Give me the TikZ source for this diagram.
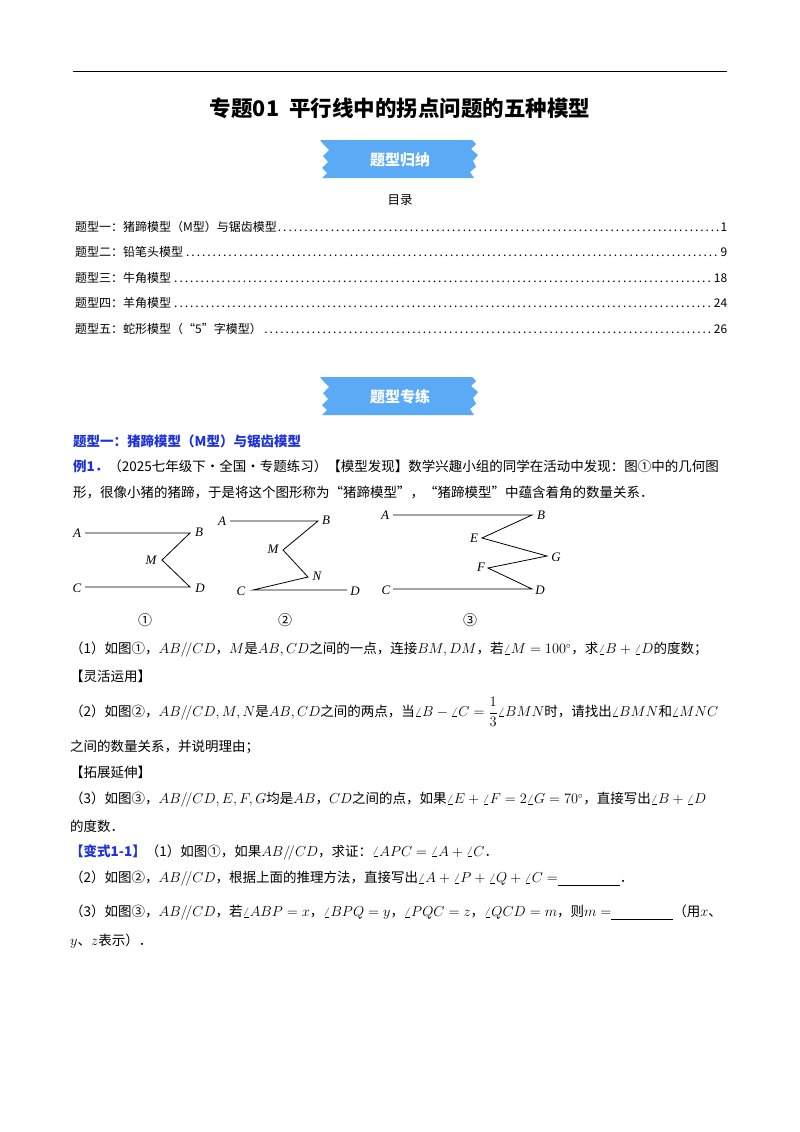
\documentclass[tikz,border=0pt]{standalone}
\usepackage{amsmath}
\usepackage{fontspec}
\setmainfont{Noto Sans CJK SC}
\newfontfamily\serifl{Liberation Serif}
\definecolor{bannerblue}{RGB}{91,170,245}
\definecolor{headblue}{RGB}{30,50,220}
\tikzset{
  txt/.style={anchor=west,inner sep=0pt,font=\fontsize{13.5}{15}\selectfont},
  toc/.style={anchor=west,inner sep=0pt,text width=652pt,font=\fontsize{12}{14}\selectfont},
  lbl/.style={inner sep=0pt,font=\fontsize{13}{15}\selectfont\itshape\serifl},
  seg/.style={line width=0.8pt},
}
\newcommand{\bannerat}[2]{%
  \fill[bannerblue] (#1-80,#2-19) -- (#1+72,#2-19) -- (#1+76,#2-15) -- (#1+71,#2-10) -- (#1+78,#2-4) -- (#1+73,#2+2) -- (#1+76,#2+8) -- (#1+70,#2+13) -- (#1+74,#2+19) -- (#1-78,#2+19) -- (#1-73,#2+14) -- (#1-78,#2+9) -- (#1-72,#2+3) -- (#1-77,#2-3) -- (#1-71,#2-9) -- (#1-76,#2-14) -- cycle;}
\begin{document}
\begin{tikzpicture}[x=1pt,y=-1pt]
\useasboundingbox (0,0) rectangle (800,1132);
\draw[line width=1pt] (73,72) coordinate (r1) -- (727,72) coordinate (r2);
\node[font=\fontsize{21.5}{23}\selectfont\bfseries] (title) at (400,108) {专题01\ \ 平行线中的拐点问题的五种模型};
\bannerat{400}{159}
\node[text=white,font=\fontsize{15}{17}\selectfont\bfseries] (b1t) at (400,160) {题型归纳};
\node[font=\fontsize{12.5}{14}\selectfont] (mulu) at (400,200) {目录};
\node[toc] (t1) at (75,227) {题型一：猪蹄模型（\textit{M}型）与锯齿模型\dotfill 1};
\node[toc] (t2) at (75,252) {题型二：铅笔头模型\dotfill 9};
\node[toc] (t3) at (75,278) {题型三：牛角模型\dotfill 18};
\node[toc] (t4) at (75,303) {题型四：羊角模型\dotfill 24};
\node[toc] (t5) at (75,329) {题型五：蛇形模型（“5”字模型）\dotfill 26};
\bannerat{400}{396}
\node[text=white,font=\fontsize{15}{17}\selectfont\bfseries] (b2t) at (400,397) {题型专练};
\node[txt,text=headblue,font=\fontsize{13.5}{15}\selectfont\bfseries] (h1) at (73,441) {题型一：猪蹄模型（\textit{M}型）与锯齿模型};
\node[txt] (e1) at (73,466) {\textcolor{headblue}{\textbf{例1．}}（2025七年级下·全国·专题练习）【模型发现】数学兴趣小组的同学在活动中发现：图①中的几何图};
\node[txt] (e1b) at (73,492) {形，很像小猪的猪蹄，于是将这个图形称为“猪蹄模型”，“猪蹄模型”中蕴含着角的数量关系．};
% figure 1
\coordinate (A1) at (85,533); \coordinate (B1) at (190,533); \coordinate (M1) at (162,560);
\coordinate (D1) at (190,587); \coordinate (C1) at (85,587);
\draw[seg] (A1) -- (B1) -- (M1) -- (D1) -- (C1);
\node[lbl] (lA1) at (77,533) {A}; \node[lbl] (lB1) at (199,532) {B}; \node[lbl] (lM1) at (151,560) {M};
\node[lbl] (lC1) at (77,588) {C}; \node[lbl] (lD1) at (200,588) {D};
% figure 2
\coordinate (A2) at (230,521); \coordinate (B2) at (318,521); \coordinate (M2) at (283,550);
\coordinate (N2) at (308,577); \coordinate (C2) at (253,590); \coordinate (D2) at (347,590);
\draw[seg] (A2) -- (B2) -- (M2) -- (N2) -- (C2) -- (D2);
\node[lbl] (lA2) at (222,521) {A}; \node[lbl] (lB2) at (326,520) {B}; \node[lbl] (lM2) at (273,549) {M};
\node[lbl] (lN2) at (317,576) {N}; \node[lbl] (lC2) at (241,591) {C}; \node[lbl] (lD2) at (355,591) {D};
% figure 3
\coordinate (A3) at (393,515); \coordinate (B3) at (532,515); \coordinate (E3) at (482,538);
\coordinate (G3) at (547,556); \coordinate (F3) at (488,568); \coordinate (D3) at (532,589); \coordinate (C3) at (393,589);
\draw[seg] (A3) -- (B3) -- (E3) -- (G3) -- (F3) -- (D3) -- (C3);
\node[lbl] (lA3) at (385,515) {A}; \node[lbl] (lB3) at (541,515) {B}; \node[lbl] (lE3) at (474,538) {E};
\node[lbl] (lG3) at (556,557) {G}; \node[lbl] (lF3) at (481,567) {F}; \node[lbl] (lC3) at (386,590) {C}; \node[lbl] (lD3) at (540,590) {D};
\node[font=\fontsize{14}{16}\selectfont] (n1) at (145,620) {①};
\node[font=\fontsize{14}{16}\selectfont] (n2) at (285,620) {②};
\node[font=\fontsize{14}{16}\selectfont] (n3) at (470,620) {③};
% questions
\node[txt] (q1) at (70,650) {（1）如图①，$AB/\!/CD$，$M$是$AB,CD$之间的一点，连接$BM,DM$，若$\angle M=100^\circ$，求$\angle B+\angle D$的度数；};
\node[txt] (s1) at (70,676) {【灵活运用】};
\node[txt] (q2) at (70,712) {（2）如图②，$AB/\!/CD,M,N$是$AB,CD$之间的两点，当$\angle B-\angle C=\dfrac{1}{3}\angle BMN$时，请找出$\angle BMN$和$\angle MNC$};
\node[txt] (q2b) at (70,747) {之间的数量关系，并说明理由；};
\node[txt] (s2) at (70,772) {【拓展延伸】};
\node[txt] (q3) at (70,800) {（3）如图③，$AB/\!/CD,E,F,G$均是$AB$，$CD$之间的点，如果$\angle E+\angle F=2\angle G=70^\circ$，直接写出$\angle B+\angle D$};
\node[txt] (q3b) at (70,826) {的度数．};
\node[txt] (v1) at (70,852) {\textcolor{headblue}{\textbf{【变式1-1】}}（1）如图①，如果$AB/\!/CD$，求证：$\angle APC=\angle A+\angle C$．};
\node[txt] (v2) at (70,879) {（2）如图②，$AB/\!/CD$，根据上面的推理方法，直接写出$\angle A+\angle P+\angle Q+\angle C=$\underline{\hspace{62pt}}．};
\node[txt] (v3) at (70,913) {（3）如图③，$AB/\!/CD$，若$\angle ABP=x$，$\angle BPQ=y$，$\angle PQC=z$，$\angle QCD=m$，则$m=$\underline{\hspace{62pt}}（用$x$、};
\node[txt] (v3b) at (70,941) {$y$、$z$表示）．};
\end{tikzpicture}
\end{document}
